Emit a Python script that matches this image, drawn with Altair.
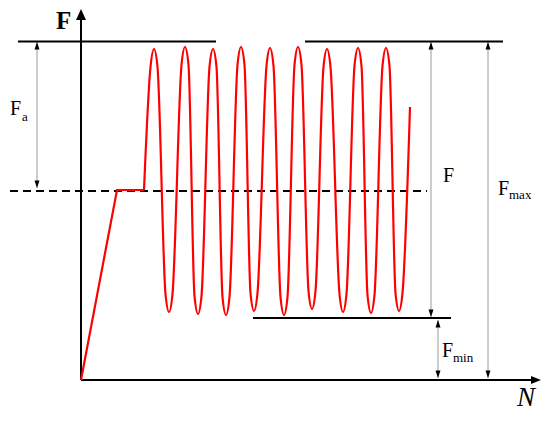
import altair as alt
import pandas as pd

# ---------------- data (schematic units: N along x, F along y) ----------------
F_MAX = 338.5
F_MEAN = 189
F_MIN = 62

# loading ramp and hold
ramp_N = [0, 36, 63]
ramp_F = [0, 190, 190]

# cyclic loading (peaks, valleys and their shoulders)
cyc_N = [63, 69.5, 73, 76.5, 84.5, 88, 91.5,
         100.5, 104, 107.5, 113.5, 117, 120.5,
         128.5, 132, 135.5, 141.5, 145, 148.5,
         156.5, 160, 163.5, 169.5, 173, 176.5,
         185.5, 189, 192.5, 199.5, 203, 206.5,
         213.5, 217, 220.5, 227.5, 231, 234.5,
         242.5, 246, 249.5, 258.5, 262, 265.5,
         273.5, 277, 280.5, 286.5, 290, 293.5,
         301.5, 305, 308.5, 314.5, 318, 321.5,
         329]
cyc_F = [190, 313, 331, 313, 86, 68, 86,
         315, 333, 315, 84, 66, 84,
         313, 331, 313, 83, 65, 83,
         315, 333, 315, 87, 69, 87,
         314, 332, 314, 83, 65, 83,
         315, 333, 315, 89, 71, 89,
         313, 331, 313, 86, 68, 86,
         314, 332, 314, 85, 67, 85,
         314, 332, 314, 87, 69, 87,
         273]

# solid black lines: axes and Fmax / Fmin levels  (N, N2, F, F2)
solid_N = [0, 0, -63, 224, 172]
solid_N2 = [0, 452, 135, 422, 370]
solid_F = [0, 0, F_MAX, F_MAX, F_MIN]
solid_F2 = [362, 0, F_MAX, F_MAX, F_MIN]

# mean level (dashed)
mean_N = [-71]
mean_N2 = [346]

# dimension lines (Fa, F, Fmax, Fmin)
dim_N = [-44, 350, 407, 357]
dim_top = [F_MAX - 0.5, F_MAX - 0.5, F_MAX - 0.5, F_MIN - 2]
dim_bot = [F_MEAN + 3, F_MIN + 1, 2, 2]

# axis arrow tips
yaxis_tip = [0, 371]
xaxis_tip = [460, 0]

# labels
lab_text = ["F", "F", "F", "F"]
lab_N = [-71, 362, 417, 361]
lab_F = [265, 198, 185, 23]
sub_text = ["a", "max", "min"]
sub_N = [-59, 428, 372]
sub_F = [259, 181, 18]

FONT = "Liberation Serif, Times New Roman, Times, serif"

# ---------------- scales ----------------
W, H = 534, 405
xs = alt.Scale(domain=[-73, 461], nice=False, zero=False)
ys = alt.Scale(domain=[-33, 372], nice=False, zero=False)


def X(f="N"):
    return alt.X(f"{f}:Q", scale=xs, axis=None)


def Y(f="F"):
    return alt.Y(f"{f}:Q", scale=ys, axis=None)


solid_df = pd.DataFrame({"N": solid_N, "N2": solid_N2, "F": solid_F, "F2": solid_F2})
solid = alt.Chart(solid_df).mark_rule(color="black", strokeWidth=2).encode(
    x=X(), x2="N2:Q", y=Y(), y2="F2:Q")

mean_df = pd.DataFrame({"N": mean_N, "N2": mean_N2, "F": [F_MEAN]})
mean = alt.Chart(mean_df).mark_rule(color="black", strokeWidth=1.8, strokeDash=[8, 5]).encode(
    x=X(), x2="N2:Q", y=Y())

dim_df = pd.DataFrame({"N": dim_N, "top": dim_top, "bot": dim_bot})
dims = alt.Chart(dim_df).mark_rule(color="#9a9a9a", strokeWidth=1).encode(
    x=X(), y=Y("top"), y2="bot:Q")
head_up = alt.Chart(dim_df).mark_point(
    shape="M0,0L-1,3L1,3Z", size=25, filled=True, color="black", opacity=1, strokeWidth=0
).encode(x=X(), y=Y("top"))
head_dn = alt.Chart(dim_df).mark_point(
    shape="M0,0L-1,-3L1,-3Z", size=25, filled=True, color="black", opacity=1, strokeWidth=0
).encode(x=X(), y=Y("bot"))

ytip = alt.Chart(pd.DataFrame({"N": [yaxis_tip[0]], "F": [yaxis_tip[1]]})).mark_point(
    shape="M0,0L-1,2.2L1,2.2Z", size=100, filled=True, color="black", opacity=1, strokeWidth=0
).encode(x=X(), y=Y())
xtip = alt.Chart(pd.DataFrame({"N": [xaxis_tip[0]], "F": [xaxis_tip[1]]})).mark_point(
    shape="M0,0L-2,-0.8L-2,0.8Z", size=100, filled=True, color="black", opacity=1, strokeWidth=0
).encode(x=X(), y=Y())

ramp = alt.Chart(pd.DataFrame({"N": ramp_N, "F": ramp_F, "o": range(len(ramp_N))})).mark_line(
    color="#ff0000", strokeWidth=2.2).encode(x=X(), y=Y(), order="o:Q")
cyc = alt.Chart(pd.DataFrame({"N": cyc_N, "F": cyc_F, "o": range(len(cyc_N))})).mark_line(
    color="#ff0000", strokeWidth=2.2, interpolate="monotone").encode(x=X(), y=Y(), order="o:Q")

labels = alt.Chart(pd.DataFrame({"N": lab_N, "F": lab_F, "t": lab_text})).mark_text(
    font=FONT, fontSize=20, align="left", baseline="alphabetic", color="black").encode(
    x=X(), y=Y(), text="t:N")
subs = alt.Chart(pd.DataFrame({"N": sub_N, "F": sub_F, "t": sub_text})).mark_text(
    font=FONT, fontSize=13, align="left", baseline="alphabetic", color="black").encode(
    x=X(), y=Y(), text="t:N")

axis_F = alt.Chart(pd.DataFrame({"N": [-25], "F": [351], "t": ["F"]})).mark_text(
    font=FONT, fontSize=25, fontWeight="bold", align="left", baseline="alphabetic", color="black").encode(
    x=X(), y=Y(), text="t:N")
axis_N = alt.Chart(pd.DataFrame({"N": [436], "F": [-26], "t": ["N"]})).mark_text(
    font=FONT, fontSize=27, fontStyle="italic", align="left", baseline="alphabetic", color="black").encode(
    x=X(), y=Y(), text="t:N")

chart = alt.layer(
    dims, mean, solid, ramp, cyc, head_up, head_dn, ytip, xtip, labels, subs, axis_F, axis_N
).properties(
    width=W, height=H, padding=0,
    autosize=alt.AutoSizeParams(type="none"),
    background="white",
).configure_view(stroke=None)

chart.save("out.html", embed_options={"renderer": "svg", "actions": False})
